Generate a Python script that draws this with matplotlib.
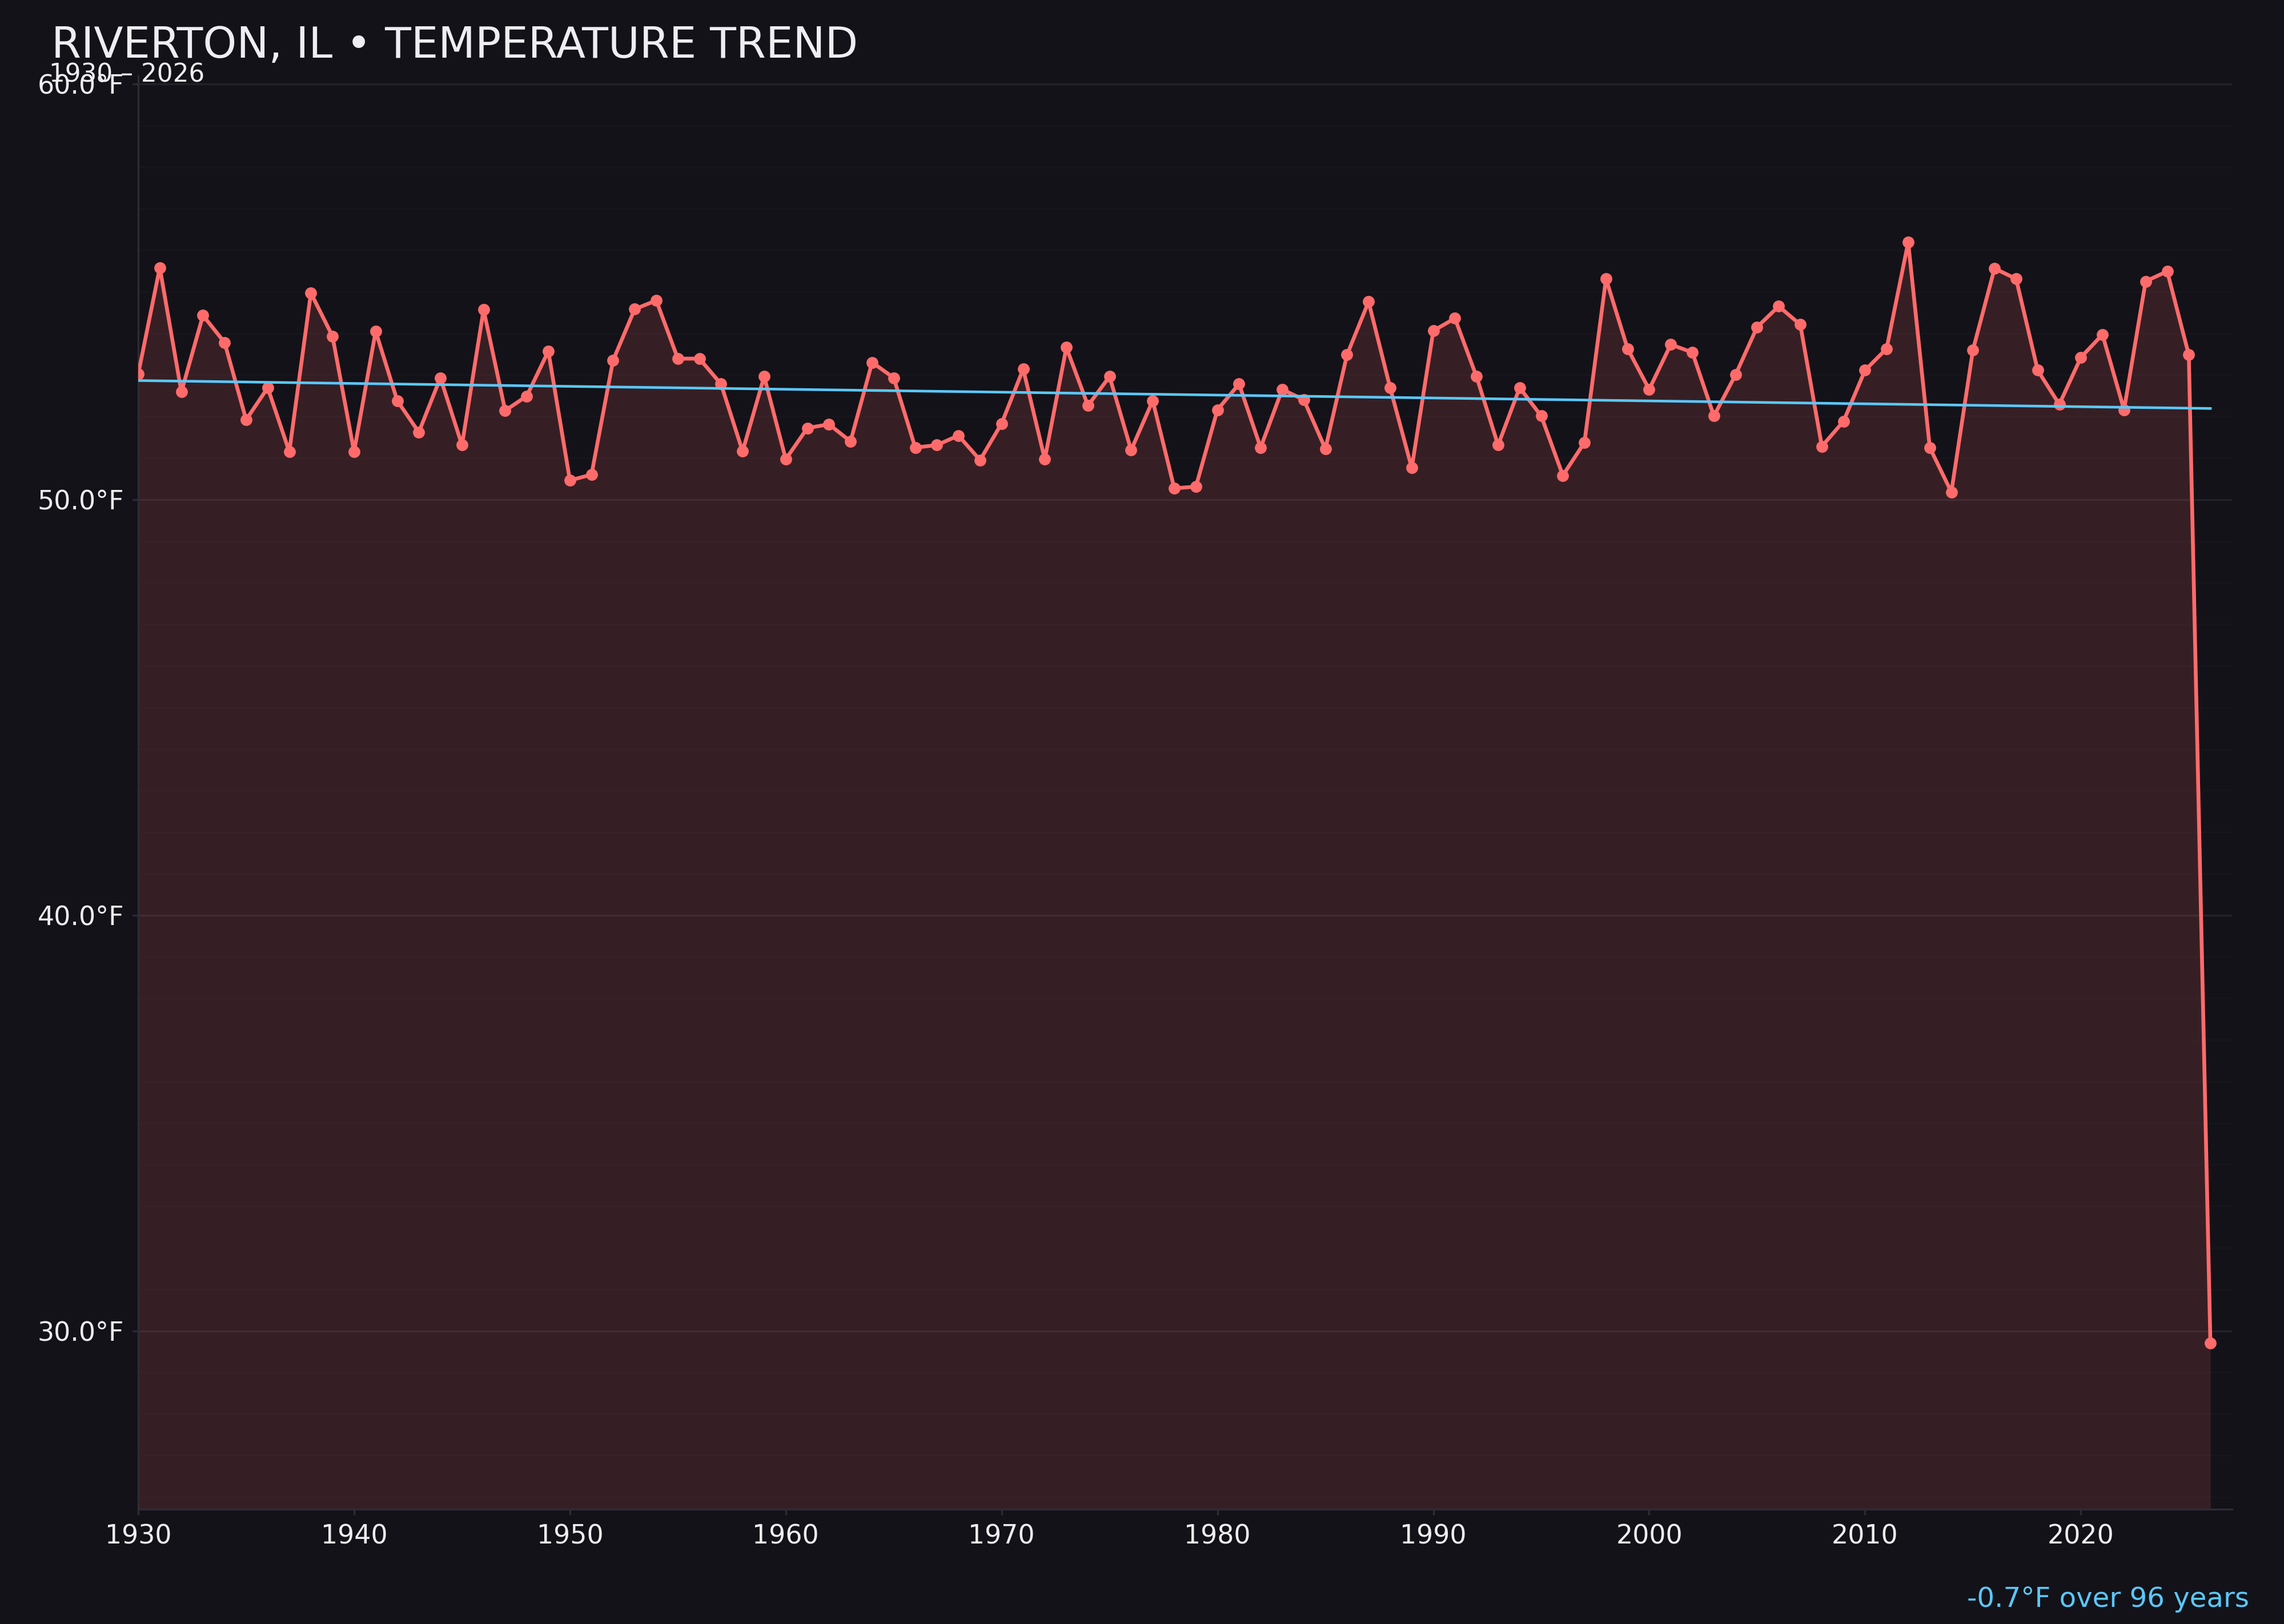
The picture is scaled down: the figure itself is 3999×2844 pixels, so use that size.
import numpy as np
import matplotlib
matplotlib.use("Agg")
import matplotlib.pyplot as plt
from matplotlib.ticker import MultipleLocator, FuncFormatter

# annual mean temperature, degF
years = list(range(1930, 2027))
temps = [
    53.02, 55.58, 52.59, 54.43, 53.78, 51.92, 52.69, 51.15, 54.97, 53.93,  # 1930s
    51.15, 54.05, 52.38, 51.62, 52.93, 51.31, 54.57, 52.14, 52.49, 53.57,  # 1940s
    50.46, 50.60, 53.35, 54.58, 54.79, 53.39, 53.39, 52.78, 51.16, 52.96,  # 1950s
    50.97, 51.72, 51.81, 51.40, 53.30, 52.93, 51.25, 51.31, 51.54, 50.95,  # 1960s
    51.83, 53.14, 50.97, 53.66, 52.26, 52.96, 51.19, 52.38, 50.27, 50.31,  # 1970s
    52.16, 52.78, 51.25, 52.65, 52.40, 51.22, 53.48, 54.76, 52.69, 50.76,  # 1980s
    54.06, 54.36, 52.96, 51.31, 52.69, 52.01, 50.58, 51.37, 55.31, 53.63,  # 1990s
    52.65, 53.73, 53.54, 52.01, 53.00, 54.15, 54.65, 54.21, 51.28, 51.88,  # 2000s
    53.11, 53.63, 56.19, 51.25, 50.18, 53.60, 55.56, 55.31, 53.11, 52.29,  # 2010s
    53.42, 53.97, 52.16, 55.25, 55.49, 53.48, 29.70,                       # 2020s
]
title = "RIVERTON, IL \u2022 TEMPERATURE TREND"
subtitle = "1930 \u2013 2026"

BG = "#131218"
RED = "#ff6b6b"
BLUE = "#5ac8fa"
TXT = "#eeeef2"

x = np.array(years)
y = np.array(temps)

# linear trend over all years
coef = np.polyfit(x, y, 1)
trend = np.polyval(coef, x)
change = coef[0] * (x[-1] - x[0])

fig = plt.figure(figsize=(13.333, 9.48), dpi=300, facecolor=BG)
ax = fig.add_axes([0.0605, 0.0705, 0.9165, 0.8827])
ax.set_facecolor(BG)

lo, hi = y.min() - 4, y.max() + 4
ax.fill_between(x, y, lo, color=RED, alpha=0.15, linewidth=0)
ax.plot(x, y, color=RED, lw=1.6, marker="o", ms=4, zorder=3)
ax.plot(x, trend, color=BLUE, lw=1.1, zorder=4)

ax.set_xlim(1930, 2027)
ax.set_ylim(lo, hi)
ax.xaxis.set_major_locator(MultipleLocator(10))
ax.yaxis.set_major_locator(MultipleLocator(10))
ax.yaxis.set_minor_locator(MultipleLocator(1))
ax.yaxis.set_major_formatter(FuncFormatter(lambda v, p: f"{v:.1f}\u00b0F"))

ax.grid(axis="y", which="major", color="#ffffff", alpha=0.07, lw=0.8)
ax.grid(axis="y", which="minor", color="#ffffff", alpha=0.02, lw=0.6)
ax.set_axisbelow(True)

for s in ["top", "right"]:
    ax.spines[s].set_visible(False)
for s in ["left", "bottom"]:
    ax.spines[s].set_color("#2c2c36")
    ax.spines[s].set_linewidth(0.8)

ax.tick_params(axis="both", which="major", colors="#2c2c36", labelcolor=TXT,
               labelsize=11, length=2.5, width=0.8)
ax.tick_params(axis="y", which="minor", length=0)

fig.text(0.0225, 0.9645, title, color=TXT, fontsize=18, ha="left", va="baseline")
fig.text(0.0215, 0.9495, subtitle, color=TXT, fontsize=10.5, ha="left", va="baseline")
fig.text(0.9845, 0.0105, f"{change:.1f}\u00b0F over {x[-1] - x[0]} years",
         color=BLUE, fontsize=11.6, ha="right", va="baseline")

fig.savefig("out.png", dpi=300, facecolor=BG)
